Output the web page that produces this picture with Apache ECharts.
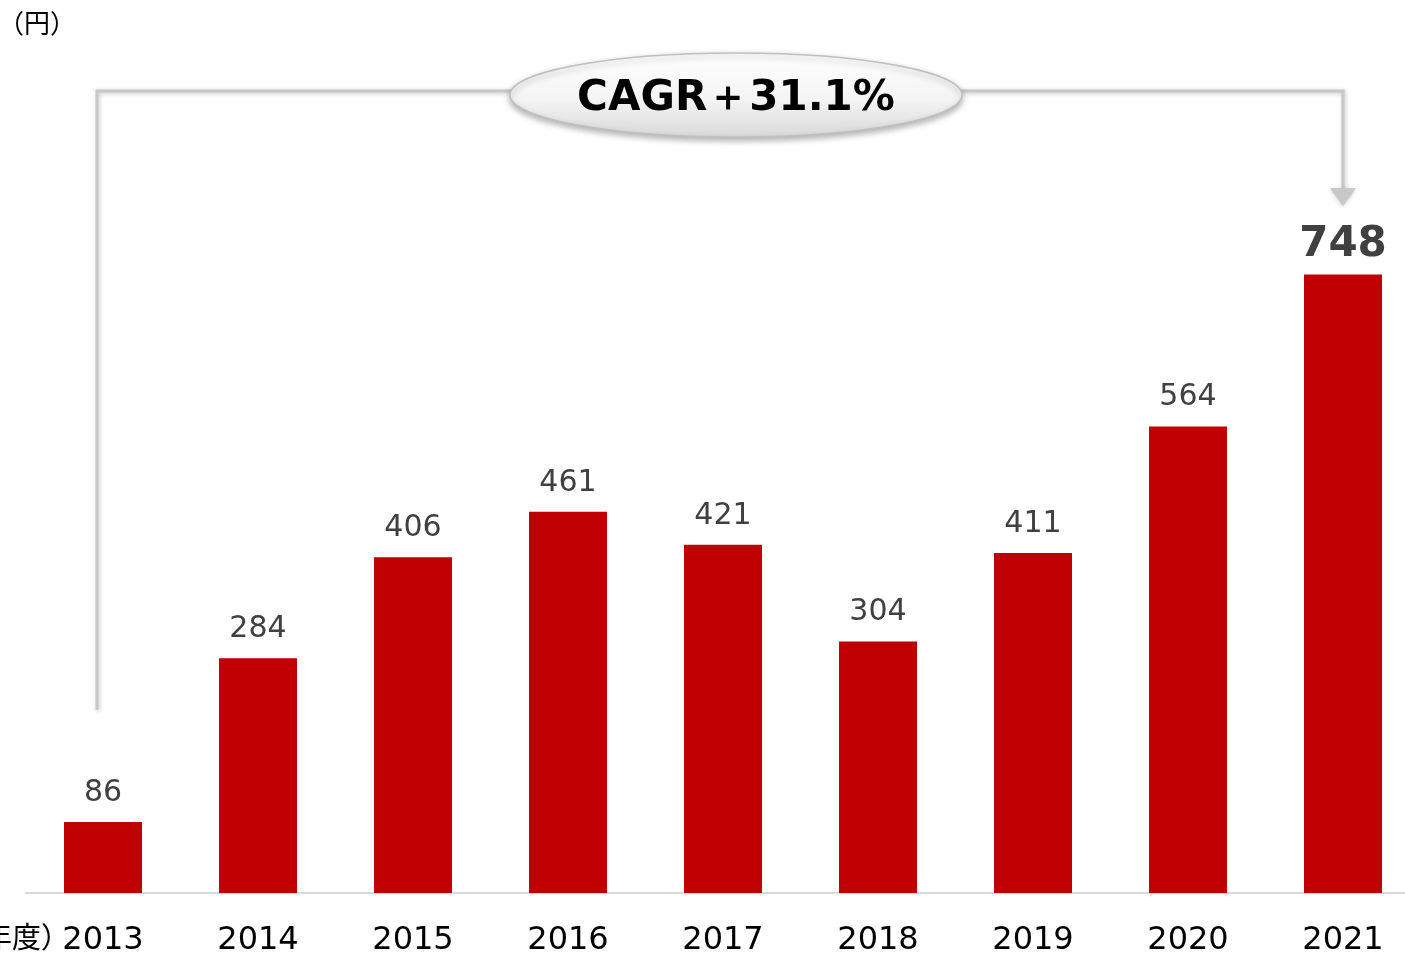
<!DOCTYPE html>
<html>
<head>
<meta charset="utf-8">
<script src="https://cdn.jsdelivr.net/npm/echarts@6/dist/echarts.min.js"></script>
<style>
html,body{margin:0;padding:0;background:#fff;}
#main{width:1405px;height:955px;}
</style>
</head>
<body>
<div id="main"></div>
<script>
// 年度別データ
var years = ['2013','2014','2015','2016','2017','2018','2019','2020','2021'];
var values = [86, 284, 406, 461, 421, 304, 411, 564, 748];
var cagrText = 'CAGR＋31.1%';

var chart = echarts.init(document.getElementById('main'));

var barData = values.map(function(v, i){
	var last = i === values.length - 1;
	return {
		value: v,
		label: last ? {fontSize: 42, fontWeight: 'bold', distance: 8} : {}
	};
});

var option = {
	animation: false,
	backgroundColor: '#fff',
	grid: {left: 25.5, width: 1395, top: 66, bottom: 62, outerBoundsMode: 'none', containLabel: false},
	xAxis: {
		type: 'category',
		data: years,
		axisTick: {show: false},
		axisLine: {lineStyle: {color: '#d9d9d9', width: 2}},
		axisLabel: {
			color: '#000', fontSize: 32, margin: 32,
			fontFamily: 'DejaVu Sans'
		}
	},
	yAxis: {
		type: 'value',
		min: 0, max: 1000,
		show: false,
		splitLine: {show: false}
	},
	series: [{
		type: 'bar',
		barWidth: 78,
		itemStyle: {color: '#c00000'},
		label: {
			show: true,
			position: 'top',
			distance: 14,
			color: '#404040',
			fontSize: 30,
			fontFamily: 'DejaVu Sans'
		},
		data: barData
	}],
	graphic: []
};
chart.setOption(option);

// 矢印・CAGR 吹き出し
var p0 = chart.convertToPixel({xAxisIndex: 0, yAxisIndex: 0}, [0, values[0]]);
var p1 = chart.convertToPixel({xAxisIndex: 0, yAxisIndex: 0}, [years.length - 1, values[values.length - 1]]);
var x0 = p0[0] - 6, x1 = p1[0];
var yTop = 91;
var lineStyle = {stroke: '#c8c8c8', lineWidth: 3, shadowBlur: 4, shadowColor: 'rgba(0,0,0,0.25)', shadowOffsetX: 1, shadowOffsetY: 1};

chart.setOption({
	graphic: [
		{type: 'text', left: -2, top: 10, style: {text: '（円）', fontSize: 26, fill: '#000', fontFamily: 'Noto Sans CJK JP'}},
		{type: 'text', left: -46, top: 922, style: {text: '（年度）', fontSize: 29, fill: '#000', fontFamily: 'Noto Sans CJK JP'}},
		{type: 'polyline', z: 10, shape: {points: [[x0, 710], [x0, yTop], [x1, yTop], [x1, 190]]}, style: lineStyle},
		{type: 'polygon', z: 10, shape: {points: [[x1 - 13, 188], [x1 + 13, 188], [x1, 206]]}, style: {fill: '#c8c8c8', shadowBlur: 4, shadowColor: 'rgba(0,0,0,0.2)', shadowOffsetY: 1}},
		{type: 'ellipse', z: 11, shape: {cx: 736, cy: 95, rx: 226, ry: 42},
			style: {
				fill: new echarts.graphic.LinearGradient(0, 0, 0, 1, [
					{offset: 0, color: '#ffffff'}, {offset: 0.55, color: '#f4f4f4'}, {offset: 1, color: '#d9d9d9'}
				]),
				stroke: '#c0c0c0', lineWidth: 1.5,
				shadowBlur: 6, shadowColor: 'rgba(0,0,0,0.3)', shadowOffsetY: 3
			}
		},
		{type: 'text', z: 12, x: 736, y: 99, style: {text: cagrText, fontSize: 42, fontWeight: 'bold', fill: '#000', align: 'center', verticalAlign: 'middle', fontFamily: 'DejaVu Sans'}}
	]
});
</script>
</body>
</html>
